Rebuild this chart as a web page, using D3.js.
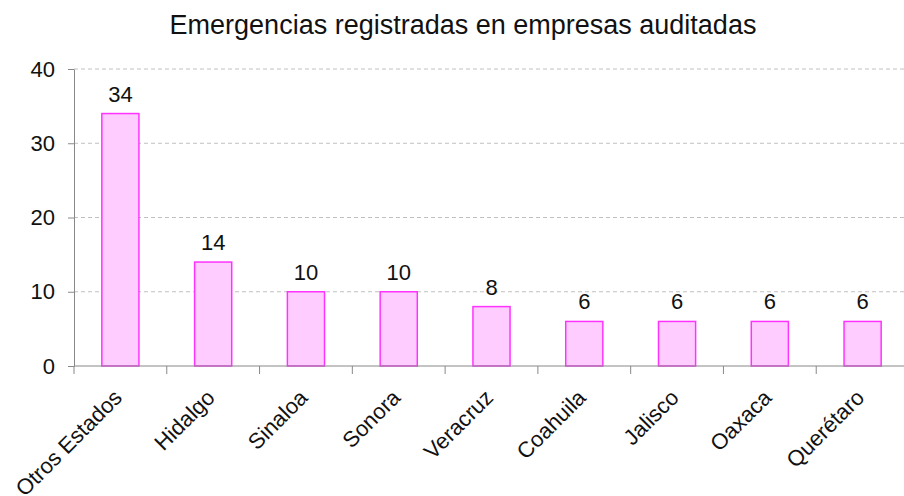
<!DOCTYPE html>
<html><head><meta charset="utf-8">
<script src="https://cdn.jsdelivr.net/npm/d3@7"></script>
<style>body{margin:0;background:#fff;} svg{display:block;font-family:"Liberation Sans",Arial,sans-serif;}</style>
</head><body>
<svg id="c" width="904" height="496"></svg>
<script>
const categories = ["Otros Estados","Hidalgo","Sinaloa","Sonora","Veracruz","Coahuila","Jalisco","Oaxaca","Querétaro"];
const values = [34,14,10,10,8,6,6,6,6];
const yTicks = [0,10,20,30,40];
const title = "Emergencias registradas en empresas auditadas";

(function(){
const svg = d3.select("#c");
const mLeft = 74, mRight = 909, mTop = 69, mBottom = 366;
const x = d3.scaleBand().domain(categories).range([mLeft, mRight]).paddingInner(0).paddingOuter(0);
const y = d3.scaleLinear().domain([0,40]).range([mBottom, mTop]);

// gridlines
svg.append("g").selectAll("line").data(yTicks.filter(d=>d>0)).join("line")
  .attr("x1", mLeft).attr("x2", 904).attr("y1", d=>y(d)).attr("y2", d=>y(d))
  .attr("stroke", "#c0c0c0").attr("stroke-width",1).attr("stroke-dasharray","4,3");

// bars
const bw = x.bandwidth()*0.4;
svg.append("g").selectAll("rect").data(values).join("rect")
  .attr("x", (d,i)=>x(categories[i]) + (x.bandwidth()-bw)/2)
  .attr("y", d=>y(d))
  .attr("width", bw)
  .attr("height", d=>y(0)-y(d))
  .attr("fill", "#FFCCFF").attr("stroke", "#FF33FF").attr("stroke-width", 1.5);

// value labels
svg.append("g").selectAll("text").data(values).join("text")
  .attr("x", (d,i)=>x(categories[i]) + x.bandwidth()/2)
  .attr("y", d=>y(d)-12)
  .attr("text-anchor","middle").attr("font-size",22).attr("fill","#111")
  .text(d=>d);

// y axis
const yAxis = svg.append("g").attr("transform",`translate(${mLeft},0)`)
  .call(d3.axisLeft(y).tickValues(yTicks).tickSize(6).tickPadding(13).tickSizeOuter(0));
yAxis.selectAll("text").attr("font-size",22).attr("fill","#111").attr("font-family","Liberation Sans, Arial, sans-serif");
yAxis.selectAll("line,path").attr("stroke","#888");

// x axis
const xAxis = svg.append("g").attr("transform",`translate(0,${mBottom})`);
xAxis.append("line").attr("x1",mLeft).attr("x2",904).attr("y1",0).attr("y2",0).attr("stroke","#888");
const bounds = categories.map(c=>x(c)).concat([x(categories[categories.length-1])+x.bandwidth()]);
xAxis.selectAll("line.t").data(bounds).join("line").attr("class","t")
  .attr("x1",d=>d).attr("x2",d=>d).attr("y1",0).attr("y2",8).attr("stroke","#888");
xAxis.selectAll("text").data(categories).join("text")
  .attr("transform", d=>`translate(${x(d)+x.bandwidth()/2+3},${33}) rotate(-45)`)
  .attr("text-anchor","end").attr("font-size",22).attr("fill","#111")
  .text(d=>d);

// title
svg.append("text").attr("x", 463).attr("y", 34).attr("text-anchor","middle")
  .attr("font-size",27).attr("fill","#111").text(title);
})();
</script>
</body></html>
